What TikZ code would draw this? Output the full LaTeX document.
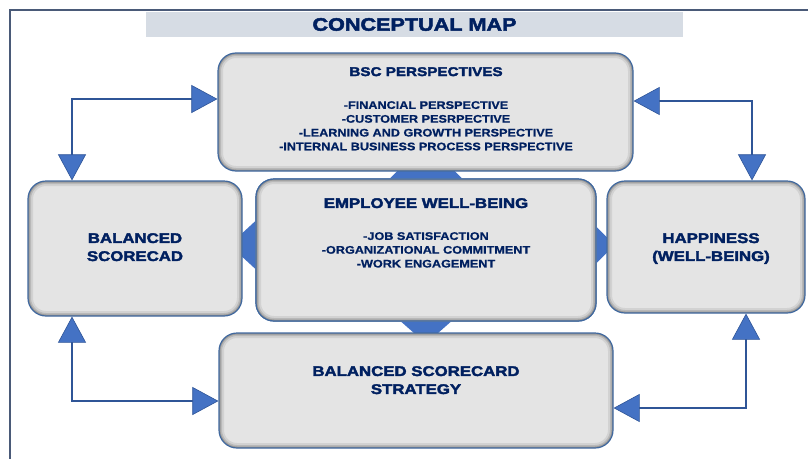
\documentclass[tikz,border=0pt]{standalone}
\usepackage{fontspec}
\setmainfont{Liberation Sans}
\newfontfamily\headfont{Liberation Sans}[BoldFeatures={FakeStretch=1.2,FakeBold=2.6}]
\newfontfamily\listfont{Liberation Sans}[BoldFeatures={FakeStretch=1.15,FakeBold=0.8}]
\usetikzlibrary{arrows.meta,calc}
\definecolor{navy}{HTML}{002060}
\definecolor{boxfill}{HTML}{E4E4E4}
\definecolor{boxline}{HTML}{41699F}
\definecolor{arrowfill}{HTML}{4472C4}
\definecolor{linecol}{HTML}{2F5597}
\definecolor{band}{HTML}{D6DCE4}
\definecolor{framecol}{HTML}{4A5A78}
\tikzset{
    box/.style={rectangle,rounded corners=18pt,draw=boxline,line width=1.2pt,fill=boxfill,
        path picture={\foreach \w/\o in {10/0.08,6/0.12,3/0.18}
            {\draw[line width=\w pt,black,opacity=\o,rounded corners=18pt]
            (path picture bounding box.south west) rectangle (path picture bounding box.north east);}}},
    head/.style={anchor=north,inner sep=0pt,align=center,text=navy,font=\headfont\bfseries\fontsize{14}{18}\selectfont},
    list/.style={anchor=north,inner sep=0pt,align=center,text=navy,font=\listfont\bfseries\fontsize{11}{13.8}\selectfont},
    link/.style={draw=linecol,line width=1.5pt,<->,
        >={Triangle[length=26pt,width=28pt,fill=arrowfill,line width=.6pt]}},
    wedge/.style={fill=arrowfill}
}

\begin{document}
\begin{tikzpicture}[x=1pt,y=-1pt]
    \useasboundingbox (0,0) rectangle (808,458);
    \draw[framecol,line width=1.5pt] (10,470) |- (820,10);

    \path
    (414.5,24.5)node[rectangle,fill=band,minimum width=537pt,minimum height=25pt,inner sep=0pt](title){}
    (title.center)node[text=navy,font=\headfont\bfseries\fontsize{18}{22}\selectfont]{CONCEPTUAL MAP};

    \path
    (426,250)node[box,minimum width=340pt,minimum height=142pt](emp){};

    \fill[wedge] ($(emp.north)+(-36,0)$) -- ($(emp.north)+(0,-36)$) -- ($(emp.north)+(36,0)$) -- cycle;
    \fill[wedge] ($(emp.south)+(-25,0)$) -- ($(emp.south)+(0,22)$) -- ($(emp.south)+(25,0)$) -- cycle;
    \fill[wedge] ($(emp.west)+(0,-29)$) -- ($(emp.west)+(-26,-5)$) -- ($(emp.west)+(0,19)$) -- cycle;
    \fill[wedge] ($(emp.east)+(0,-23)$) -- ($(emp.east)+(18,-5)$) -- ($(emp.east)+(0,13)$) -- cycle;

    \path
    (425.5,112)node[box,minimum width=415pt,minimum height=118pt](bsc){}
    (426,250)node[box,minimum width=340pt,minimum height=142pt](emp){}
    (135,248.5)node[box,minimum width=214pt,minimum height=135pt](bal){}
    (706,247)node[box,minimum width=198pt,minimum height=132pt](hap){}
    (416,390.5)node[box,minimum width=394pt,minimum height=115pt](strat){};

    \path
    (426,67)node[head,font=\headfont\bfseries\fontsize{12.7}{15}\selectfont](bsc-head){BSC PERSPECTIVES}
    (426,101)node[list](bsc-list){-FINANCIAL PERSPECTIVE\\-CUSTOMER PESRPECTIVE\\-LEARNING AND GROWTH PERSPECTIVE\\-INTERNAL BUSINESS PROCESS PERSPECTIVE}
    (426,198)node[head](emp-head){EMPLOYEE WELL-BEING}
    (426,232)node[list](emp-list){-JOB SATISFACTION\\-ORGANIZATIONAL COMMITMENT\\-WORK ENGAGEMENT}
    (135,233)node[head](bal-text){BALANCED\\SCORECAD}
    (711,233)node[head](hap-text){HAPPINESS\\(WELL-BEING)}
    (416,366)node[head](strat-text){BALANCED SCORECARD\\STRATEGY};

    \coordinate (tl) at (72,99);
    \coordinate (tr) at (752,101);
    \coordinate (bl) at (72,401);
    \coordinate (br) at (746,408);
    \draw[link] (bsc.west |- tl) -- (tl) -- (tl |- bal.north);
    \draw[link] (bsc.east |- tr) -- (tr) -- (tr |- hap.north);
    \draw[link] (bal.south -| bl) -- (bl) -- (strat.west |- bl);
    \draw[link] (hap.south -| br) -- (br) -- (strat.east |- br);
\end{tikzpicture}
\end{document}
